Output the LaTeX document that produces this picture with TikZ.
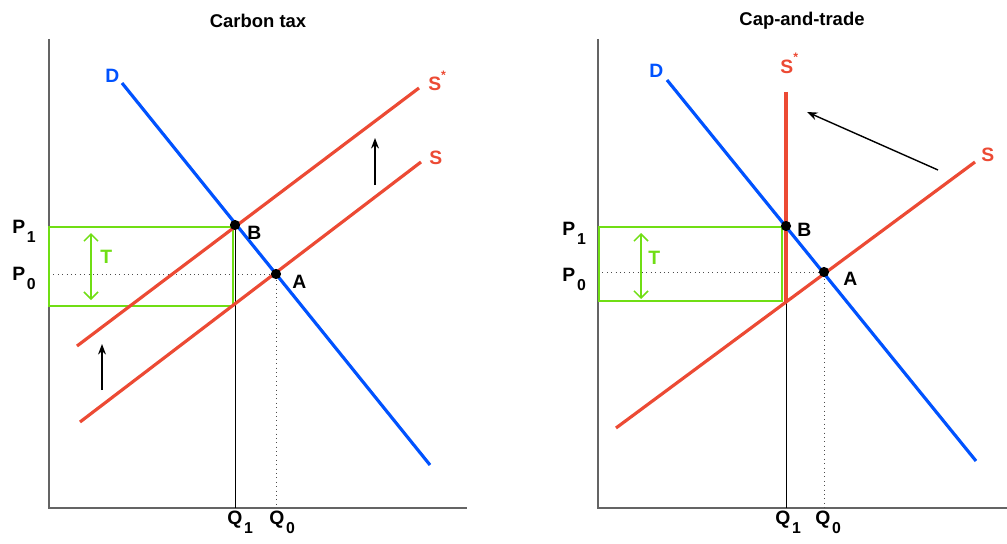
\documentclass[tikz,border=0pt]{standalone}
\usepackage{fontspec}
\setmainfont{Liberation Sans}
\usetikzlibrary{arrows.meta}
\definecolor{supred}{RGB}{236,74,52}
\definecolor{demblue}{RGB}{0,82,255}
\definecolor{taxgreen}{RGB}{112,222,20}
\definecolor{axisgray}{RGB}{100,100,100}
\newcommand{\lowsub}[2]{#1\kern1pt\raisebox{-5.5pt}{\small #2}}
\newcommand{\hisup}[2]{#1\raisebox{6.5pt}{\scriptsize #2}}
\begin{document}
\begin{tikzpicture}[x=0.02cm,y=-0.02cm,>={Stealth[length=6pt,width=4.5pt]},
  font=\bfseries\fontsize{11}{13}\selectfont]
\tikzset{axis/.style={draw=axisgray,line width=0.75pt},
  curve/.style={line width=1.8pt},
  guide/.style={draw=black!70,dotted,line width=0.5pt},
  qline/.style={draw=black,line width=0.5pt},
  taxbox/.style={draw=taxgreen,line width=0.9pt},
  taxarrow/.style={taxgreen,line width=0.9pt,{Straight Barb[length=4pt]}-{Straight Barb[length=4pt]}},
  moveline/.style={->,line width=0.8pt},
  dot/.style={circle,fill=black,inner sep=0pt,minimum size=5.8pt},
  lbl/.style={anchor=base west,inner sep=0pt},
  title/.style={font=\bfseries\fontsize{10.5}{12}\selectfont}}
\useasboundingbox (0,0) rectangle (1007,544);

% Carbon tax
\node[title] (titleL) at (258,21) {Carbon tax};
\coordinate (yL) at (49,39); \coordinate (oL) at (49,508); \coordinate (xL) at (467,508);
\coordinate (dL1) at (122,83); \coordinate (dL2) at (430,465);
\coordinate (sL1) at (80,422); \coordinate (sL2) at (421,162);
\coordinate (tL1) at (77,346); \coordinate (tL2) at (419,88);
\coordinate (bL) at (235,225); \coordinate (aL) at (276,274);
\coordinate (q1L) at (235,508); \coordinate (q0L) at (276,508); \coordinate (p0L) at (49,274);
\coordinate (boxL1) at (49,227); \coordinate (boxL2) at (233,306);
\coordinate (taxL1) at (91,233); \coordinate (taxL2) at (91,300);
\coordinate (upL1) at (375,185); \coordinate (upL2) at (375,138);
\coordinate (upL3) at (102,390); \coordinate (upL4) at (102,344);
\draw[axis] (yL) -- (oL) -- (xL);
\draw[qline] (bL) -- (q1L);
\draw[guide] (p0L) -- (aL) -- (q0L);
\draw[taxbox] (boxL1) rectangle (boxL2);
\draw[taxarrow] (taxL1) -- (taxL2);
\draw[curve,supred] (sL1) -- (sL2);
\draw[curve,supred] (tL1) -- (tL2);
\draw[curve,demblue] (dL1) -- (dL2);
\draw[moveline] (upL1) -- (upL2); \draw[moveline] (upL3) -- (upL4);
\node[dot] (ptBL) at (bL) {}; \node[dot] (ptAL) at (aL) {};
\node[lbl,demblue] (labDL) at (105,83) {D};
\node[lbl,supred] (labSL) at (429,164) {S};
\node[lbl,supred] (labTL) at (428,91) {\hisup{S}{*}};
\node[lbl] (labBL) at (247,239) {B}; \node[lbl] (labAL) at (292,288) {A};
\node[lbl,taxgreen] (labTaxL) at (100,263) {T};
\node[lbl] (labP1L) at (12,233) {\lowsub{P}{1}};
\node[lbl] (labP0L) at (12,280) {\lowsub{P}{0}};
\node[lbl] (labQ1L) at (227,524) {\lowsub{Q}{1}};
\node[lbl] (labQ0L) at (269,524) {\lowsub{Q}{0}};

% Cap-and-trade
\node[title] (titleR) at (802,21) {Cap-and-trade};
\coordinate (yR) at (598,39); \coordinate (oR) at (598,508); \coordinate (xR) at (1007,508);
\coordinate (dR1) at (667,80); \coordinate (dR2) at (976,461);
\coordinate (sR1) at (616,428); \coordinate (sR2) at (975,162);
\coordinate (capTop) at (786,92); \coordinate (capFoot) at (786,302);
\coordinate (bR) at (786,226); \coordinate (aR) at (824,272);
\coordinate (q1R) at (786,508); \coordinate (q0R) at (824,508); \coordinate (p0R) at (598,272);
\coordinate (boxR1) at (599,227); \coordinate (boxR2) at (782,301);
\coordinate (taxR1) at (641,233); \coordinate (taxR2) at (641,299);
\coordinate (mvR1) at (938,170); \coordinate (mvR2) at (807,112);
\draw[axis] (yR) -- (oR) -- (xR);
\draw[qline] (capFoot) -- (q1R);
\draw[guide] (p0R) -- (aR) -- (q0R);
\draw[taxbox] (boxR1) rectangle (boxR2);
\draw[taxarrow] (taxR1) -- (taxR2);
\draw[curve,supred] (sR1) -- (sR2);
\draw[curve,supred] (capTop) -- (capFoot);
\draw[curve,demblue] (dR1) -- (dR2);
\draw[moveline] (mvR1) -- (mvR2);
\node[dot] (ptBR) at (bR) {}; \node[dot] (ptAR) at (aR) {};
\node[lbl,demblue] (labDR) at (649,78) {D};
\node[lbl,supred] (labSR) at (981,161) {S};
\node[lbl,supred] (labTR) at (780,73) {\hisup{S}{*}};
\node[lbl] (labBR) at (797,236) {B}; \node[lbl] (labAR) at (843,285) {A};
\node[lbl,taxgreen] (labTaxR) at (648,264) {T};
\node[lbl] (labP1R) at (562,235) {\lowsub{P}{1}};
\node[lbl] (labP0R) at (562,281) {\lowsub{P}{0}};
\node[lbl] (labQ1R) at (775,524) {\lowsub{Q}{1}};
\node[lbl] (labQ0R) at (815,524) {\lowsub{Q}{0}};
\end{tikzpicture}
\end{document}
